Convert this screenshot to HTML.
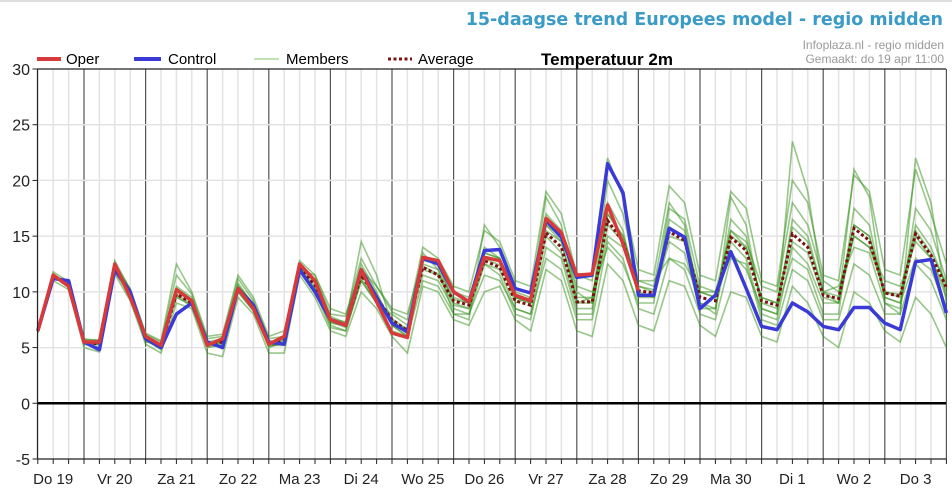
<!DOCTYPE html>
<html><head><meta charset="utf-8">
<style>
html,body{margin:0;padding:0;background:#fff;}
svg{display:block;font-family:"Liberation Sans",sans-serif;}
</style></head>
<body>
<svg id="chart" width="952" height="491" viewBox="0 0 952 491" xmlns="http://www.w3.org/2000/svg">
<line x1="0" y1="1" x2="952" y2="1" stroke="#ddd" stroke-width="2"/>
<text x="943" y="25" text-anchor="end" font-size="17.5" font-weight="bold" fill="#3a9bc6" font-family="DejaVu Sans, Liberation Sans, sans-serif">15-daagse trend Europees model - regio midden</text>
<text x="944" y="49" text-anchor="end" font-size="12" fill="#999">Infoplaza.nl - regio midden</text>
<text x="944" y="63" text-anchor="end" font-size="12" fill="#999">Gemaakt: do 19 apr 11:00</text>
<text x="541" y="65" font-size="17" font-weight="bold" fill="#000">Temperatuur 2m</text>
<g>
 <g><line x1="37" y1="59" x2="61" y2="59" stroke="#d63a3a" stroke-width="4"/><text x="66" y="64" font-size="15">Oper</text></g>
 <g><line x1="134" y1="59" x2="161" y2="59" stroke="#3a3ad6" stroke-width="4"/><text x="168" y="64" font-size="15">Control</text></g>
 <g><line x1="254" y1="59" x2="279" y2="59" stroke="#a8d89a" stroke-width="1.5"/><text x="286" y="64" font-size="15">Members</text></g>
 <g><line x1="388" y1="59" x2="412" y2="59" stroke="#7a1010" stroke-width="3" stroke-dasharray="3,2.5"/><text x="418" y="64" font-size="15">Average</text></g>
</g>
<g id="grid"></g>
<g id="members"></g>
<g id="series"></g>
<g id="axes"></g>
</svg>
<script>
const yTicks=[30,25,20,15,10,5,0,-5];
const dayLabels=["Do 19","Vr 20","Za 21","Zo 22","Ma 23","Di 24","Wo 25","Do 26","Vr 27","Za 28","Zo 29","Ma 30","Di 1","Wo 2","Do 3"];
const oper=[6.5,11.5,10.5,5.5, 5.5,12.5,9.5,6.0, 5.2,10.2,9.2,5.2, 5.8,10.3,8.5,5.3, 6.0,12.5,11.0,7.5, 7.0,12.0,9.1,6.3, 5.9,13.1,12.8,10.0, 9.1,13.1,12.8,9.7, 9.2,16.6,15.3,11.5, 11.6,17.8,14.3,10.1];
const control=[6.5,11.2,11.0,5.5, 4.8,12.0,10.0,5.8, 5.0,8.0,9.0,5.5, 5.0,10.3,8.8,5.5, 5.3,12.0,10.0,7.5, 7.0,12.0,9.5,7.2, 6.4,13.0,12.5,10.0, 9.1,13.7,13.8,10.3, 9.9,16.4,14.9,11.3, 11.5,21.5,18.9,9.7, 9.7,15.7,14.9,8.5, 9.7,13.6,10.3,6.9, 6.6,9.0,8.2,6.9, 6.6,8.6,8.6,7.2, 6.6,12.7,12.9,8.1];
const average=[6.5,11.4,10.6,5.5, 5.3,12.2,9.8,5.9, 5.1,9.8,9.0,5.3, 5.5,10.3,8.6,5.3, 5.6,12.2,10.6,7.5, 7.0,11.5,9.5,7.5, 6.5,12.2,11.5,9.2, 8.8,12.8,12.2,9.2, 8.8,15.3,14.0,9.1, 9.1,16.4,14.5,10.1, 9.9,15.4,14.6,9.5, 9.2,14.9,13.7,9.2, 8.8,15.2,14.0,9.7, 9.4,15.7,14.6,9.9, 9.6,15.2,13.3,10.4];
const member1=[6.6,11.8,10.9,5.8, 5.6,12.8,10.2,6.2, 5.5,11.5,9.8,5.8, 6.0,11.2,9.2,5.8, 6.0,12.8,11.5,8.0, 7.8,13.0,10.5,8.2, 7.5,14.0,13.0,10.5, 10.0,15.5,14.5,11.0, 10.5,19.0,17.0,11.5, 11.0,22.0,18.5,12.0, 11.5,19.5,18.0,11.5, 11.0,19.0,17.5,11.0, 10.5,20.0,18.0,11.5, 11.0,20.5,19.0,12.0, 11.5,21.0,17.0,12.5];
const member2=[6.3,11.0,10.2,5.0, 4.6,11.6,9.2,5.3, 4.5,9.0,8.5,4.5, 4.2,9.5,8.0,4.5, 4.5,11.5,9.5,6.5, 6.0,10.0,8.5,6.0, 4.5,10.5,10.0,7.5, 7.0,10.0,10.5,7.5, 6.5,12.0,11.0,6.5, 6.0,12.5,11.0,7.0, 6.5,11.0,10.5,7.0, 6.0,10.0,9.5,6.0, 5.5,10.5,9.0,6.0, 5.0,10.0,9.0,6.5, 5.5,9.5,8.0,5.0];
const member3=[6.5,11.5,10.5,5.6, 5.2,12.0,10.0,6.0, 5.0,10.5,9.5,5.5, 5.8,10.8,8.8,5.0, 5.5,12.5,10.8,7.8, 7.2,12.5,10.0,7.0, 6.0,12.5,12.0,9.5, 9.0,14.0,13.0,9.0, 9.5,16.0,15.0,10.5, 10.0,14.0,12.5,9.0, 9.0,17.5,16.5,10.5, 10.0,13.5,12.0,8.5, 8.0,16.5,15.0,10.0, 10.5,14.0,13.5,9.0, 8.5,17.5,15.5,11.0];
const member4=[6.4,11.2,10.8,5.3, 5.0,12.5,9.5,5.5, 5.3,9.5,8.8,5.0, 5.2,10.0,8.3,5.5, 5.8,11.8,10.2,7.0, 6.5,11.0,9.0,8.0, 7.0,11.5,11.0,8.5, 8.0,12.5,11.5,8.0, 7.5,14.0,13.0,8.0, 8.0,18.0,15.5,9.5, 9.5,14.5,13.5,8.5, 8.5,16.5,15.0,9.0, 8.5,13.0,12.0,8.0, 8.0,17.5,16.0,9.5, 9.0,13.0,12.0,8.5];
const member5=[6.7,11.6,10.4,5.7, 5.7,12.2,10.3,6.3, 5.6,12.5,10.0,6.0, 6.2,11.5,9.5,6.0, 6.5,12.0,11.5,8.5, 8.0,12.0,10.5,8.5, 8.0,13.0,12.5,10.0, 9.5,13.5,13.0,10.0, 9.5,17.0,15.5,10.0, 9.0,15.0,14.0,11.0, 11.0,13.0,12.5,10.0, 10.0,15.5,14.5,10.5, 10.0,18.0,16.0,11.0, 10.0,15.0,14.0,11.0, 10.5,14.5,13.0,10.0];
const member6=[6.5,11.3,10.7,5.4, 5.3,12.0,9.8,5.7, 4.8,10.0,9.2,5.2, 5.5,10.5,9.0,5.2, 5.2,12.3,10.5,7.2, 7.0,11.8,9.8,7.0, 6.8,12.0,11.5,8.8, 8.5,12.5,12.0,8.5, 8.0,15.0,13.5,8.5, 8.5,16.0,14.5,10.0, 9.5,16.5,15.5,9.0, 8.5,14.5,13.0,8.0, 7.5,14.0,12.5,9.0, 9.0,16.0,15.0,9.5, 9.0,15.0,13.0,9.5];
const member7=[6.6,11.5,10.6,5.5, 5.4,12.4,9.9,5.9, 5.2,9.8,8.9,5.4, 5.4,10.2,8.5,5.3, 5.7,12.2,10.0,6.8, 6.5,11.2,9.2,7.5, 6.2,12.8,12.5,9.0, 8.5,13.5,13.0,9.5, 9.0,15.5,14.5,9.0, 9.5,17.0,15.0,10.5, 10.0,15.0,14.5,10.0, 9.5,15.5,14.0,9.5, 9.0,14.5,13.5,9.5, 9.0,15.0,14.0,10.0, 9.5,16.0,14.0,10.5];
const member8=[6.5,11.6,10.5,5.6, 5.5,12.6,10.2,6.0, 5.3,10.3,9.3,5.4, 5.6,10.6,8.8,5.4, 5.9,12.5,11.0,7.6, 7.3,14.5,11.5,7.0, 6.0,13.5,12.0,8.0, 7.5,16.0,14.0,9.5, 9.0,18.5,16.0,9.0, 9.0,20.0,17.0,11.0, 10.5,18.0,16.0,9.0, 8.0,18.5,16.0,8.5, 8.0,23.5,19.0,10.0, 9.0,21.0,18.5,9.0, 8.0,22.0,18.0,9.0];
const member9=[6.4,11.4,10.6,5.4, 5.0,11.8,9.6,5.6, 5.0,9.6,8.7,5.1, 5.3,10.0,8.3,5.1, 5.4,12.0,10.3,7.3, 6.8,11.0,9.0,6.5, 6.0,11.0,10.5,8.0, 8.0,11.5,11.0,8.5, 8.0,13.0,12.0,7.5, 7.5,14.5,13.0,8.5, 8.0,13.0,12.0,8.0, 7.5,13.0,12.5,7.5, 7.0,12.0,11.0,7.5, 7.5,12.5,11.5,8.0, 8.0,12.5,11.0,7.5];
const member10=[6.5,11.4,10.7,5.5, 5.3,12.3,9.9,5.8, 5.2,10.2,9.1,5.3, 5.5,10.4,8.7,5.4, 5.6,12.4,10.8,7.6, 7.1,11.6,9.6,7.6, 6.6,12.3,11.6,9.3, 9.0,13.0,12.4,9.5, 9.2,16.0,14.5,9.5, 9.5,17.0,15.0,10.5, 10.2,15.8,15.0,10.0, 9.5,15.0,14.0,9.5, 9.0,15.8,14.5,10.0, 9.6,16.0,15.0,10.0, 9.8,15.5,13.5,10.8];
const members=[member1,member2,member3,member4,member5,member6,member7,member8,member9,member10];

const NS="http://www.w3.org/2000/svg";
const X0=22.4, DAYW=61.6, LEFT=37.5, RIGHT=946, TOP=69, BOT=459;
const YMIN=-5, YMAX=30;
function xHour(h){return X0+h/24*DAYW;}
function xIdx(i){return xHour(6+6*i);}
function yVal(v){return TOP+(YMAX-v)/(YMAX-YMIN)*(BOT-TOP);}
function mk(tag,attrs,parent){const e=document.createElementNS(NS,tag);for(const k in attrs)e.setAttribute(k,attrs[k]);parent.appendChild(e);return e;}
const grid=document.getElementById('grid'),axes=document.getElementById('axes'),mem=document.getElementById('members'),ser=document.getElementById('series');
for(let h=6;h<=360;h+=6){
  const x=xHour(h);
  const day=(h%24===0);
  const l=mk('line',{x1:x,y1:TOP,x2:x,y2:BOT,stroke:day?'#555':'#e3e3e3','stroke-width':day?1.2:1.5},grid);
  
  
}
yTicks.forEach(v=>{
  const y=yVal(v);
  if(v!==0&&v!==YMAX&&v!==YMIN){
    const g=mk('line',{x1:LEFT,y1:y,x2:RIGHT,y2:y,stroke:'#e3e3e3','stroke-width':1.5},grid);
    
    
  }
  const t=mk('line',{x1:LEFT-5,y1:y,x2:LEFT,y2:y,stroke:'#222','stroke-width':1},axes);
  
  
  const tx=mk('text',{x:30,y:y+6,'text-anchor':'end','font-size':16,fill:'#222'},axes);
  tx.textContent=v;
  
  
});
function path(arr){return arr.map((v,i)=>(i?'L':'M')+xIdx(i).toFixed(1)+' '+yVal(v).toFixed(1)).join(' ');}
members.forEach((m,k)=>{
  const p=mk('path',{d:path(m),fill:'none',stroke:'#2f8f14','stroke-opacity':0.5,'stroke-width':1.6},mem);
  
  
});
const pa=mk('path',{d:path(average),fill:'none',stroke:'#7a1010','stroke-width':3,'stroke-dasharray':'3,2.5'},ser);


const pc=mk('path',{d:path(control),fill:'none',stroke:'#3a3ad6','stroke-width':3.5,'stroke-linejoin':'round'},ser);


const po=mk('path',{d:path(oper),fill:'none',stroke:'#d63a3a','stroke-width':3.5,'stroke-linejoin':'round'},ser);


const zl=mk('line',{x1:LEFT,y1:yVal(0),x2:RIGHT,y2:yVal(0),stroke:'#000','stroke-width':2.5},axes);


const tl=mk('line',{x1:LEFT,y1:TOP,x2:RIGHT,y2:TOP,stroke:'#222','stroke-width':1.2},axes);


const bl=mk('line',{x1:LEFT,y1:BOT,x2:RIGHT,y2:BOT,stroke:'#222','stroke-width':1.2},axes);


const ll=mk('line',{x1:LEFT,y1:TOP,x2:LEFT,y2:BOT,stroke:'#222','stroke-width':1.2},axes);


for(let h=6;h<=360;h+=6){
  const x=xHour(h);
  const t=mk('line',{x1:x,y1:BOT,x2:x,y2:BOT+5,stroke:'#222','stroke-width':1},axes);
  
  
}
dayLabels.forEach((d,i)=>{
  const t=mk('text',{x:xHour(24*i+12),y:484,'text-anchor':'middle','font-size':15,fill:'#222'},axes);
  t.textContent=d;
  
  
});
</script>
</body></html>
